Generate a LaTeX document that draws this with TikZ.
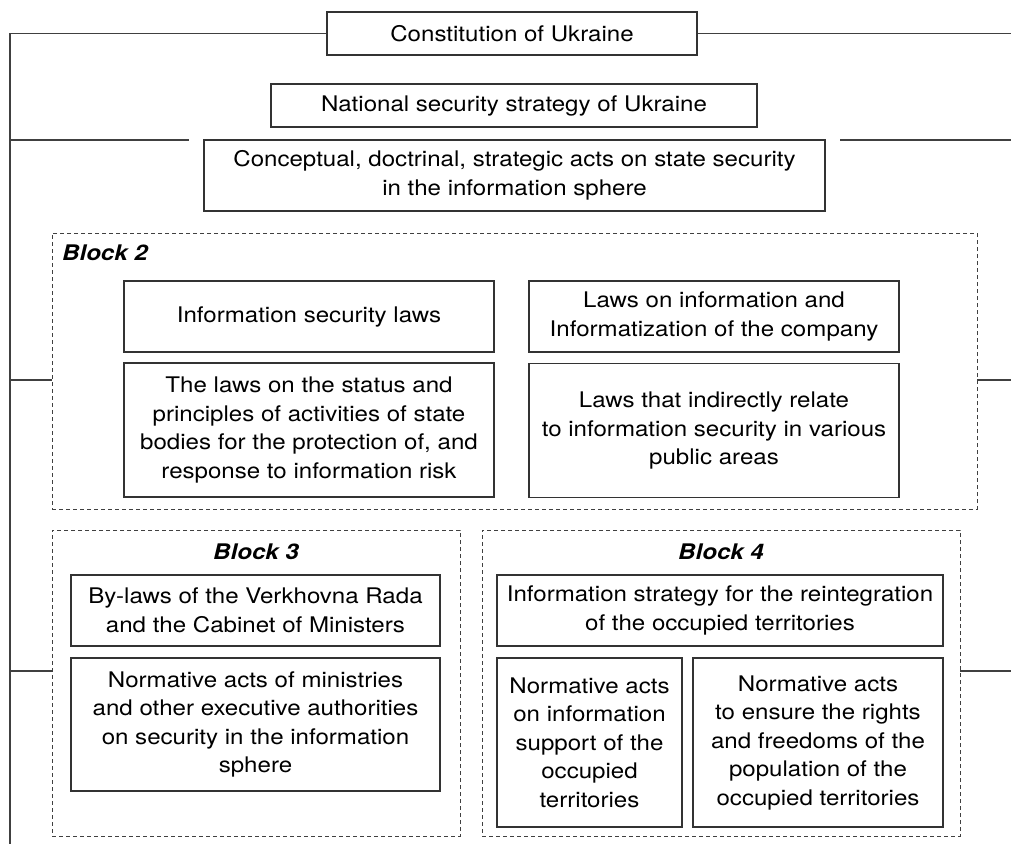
\documentclass[tikz,border=0pt]{standalone}
\usepackage{fontspec}
\setmainfont{TeX Gyre Heros}[FakeStretch=1.12]
\begin{document}
\begin{tikzpicture}[x=1pt,y=1pt,
  box/.style={draw=black!80, line width=1.2pt, align=center, inner sep=2pt,
    font=\fontsize{21.5}{28.5}\selectfont, text=black},
  blockframe/.style={draw=black!75, line width=0.9pt, dash pattern=on 4pt off 3pt},
  blocklabel/.style={font=\fontsize{21.5}{24}\selectfont\bfseries\itshape, text=black, inner sep=0pt},
  conn/.style={draw=black!75, line width=1.2pt}]
\useasboundingbox (0,0) rectangle (1011,-844);

% top boxes
\node[box, minimum width=370pt, minimum height=43pt] (const) at (512,-33.5) {Constitution of Ukraine};
\node[box, minimum width=486pt, minimum height=43pt] (nss) at (514,-105.5) {National security strategy of Ukraine};
\node[box, minimum width=621pt, minimum height=71pt] (concept) at (514.5,-175.5) {Conceptual, doctrinal, strategic acts on state security\\in the information sphere};

% block 2
\node[blockframe, minimum width=925pt, minimum height=276pt, inner sep=0pt] (b2) at (514.5,-371) {};
\node[blocklabel, anchor=west] (b2l) at (62,-253) {Block 2};
\node[box, minimum width=370pt, minimum height=71pt] (isl) at (309,-316.5) {Information security laws};
\node[box, minimum width=370pt, minimum height=71pt] (lii) at (714,-316.5) {Laws on information and\\Informatization of the company};
\node[box, minimum width=370pt, minimum height=134pt] (status) at (309,-430) {The laws on the status and\\principles of activities of state\\bodies for the protection of, and\\response to information risk};
\node[box, minimum width=370pt, minimum height=134pt, anchor=north] (indirect) at (714,-363) {Laws that indirectly relate\\to information security in various\\public areas};

% block 3
\node[blockframe, minimum width=408pt, minimum height=306pt, inner sep=0pt] (b3) at (256,-683) {};
\node[blocklabel] (b3l) at (256,-552) {Block 3};
\node[box, minimum width=369pt, minimum height=71pt] (bylaws) at (255.5,-610.5) {By-laws of the Verkhovna Rada\\and the Cabinet of Ministers};
\node[box, minimum width=369pt, minimum height=133pt] (normmin) at (255.5,-724.5) {Normative acts of ministries\\and other executive authorities\\on security in the information\\sphere};

% block 4
\node[blockframe, minimum width=478pt, minimum height=306pt, inner sep=0pt] (b4) at (721,-683) {};
\node[blocklabel] (b4l) at (721,-552) {Block 4};
\node[box, minimum width=446pt, minimum height=71pt] (strat) at (720,-610.5) {Information strategy for the reintegration\\of the occupied territories};
\node[box, minimum width=185pt, minimum height=169pt] (na1) at (589.5,-742.5) {Normative acts\\on information\\support of the\\occupied\\territories};
\node[box, minimum width=250pt, minimum height=169pt] (na2) at (818,-742.5) {Normative acts\\to ensure the rights\\and freedoms of the\\population of the\\occupied territories};

% connectors
\coordinate (spinetop) at (10,-33.5);
\coordinate (spinebot) at (10,-844);
\coordinate (rightedge1) at (1011,-33.5);
\coordinate (l2a) at (10,-140);
\coordinate (l2b) at (189,-140);
\coordinate (r2a) at (840,-140);
\coordinate (r2b) at (1011,-140);
\coordinate (l3a) at (10,-380);
\coordinate (l3b) at (52,-380);
\coordinate (r3a) at (977,-380);
\coordinate (r3b) at (1011,-380);
\coordinate (l4a) at (10,-671);
\coordinate (l4b) at (52,-671);
\coordinate (r4a) at (960,-671);
\coordinate (r4b) at (1011,-671);

\draw[conn] (const.west) -- (spinetop) -- (spinebot);
\draw[conn] (const.east) -- (rightedge1);
\draw[conn] (l2a) -- (l2b);
\draw[conn] (r2a) -- (r2b);
\draw[conn] (l3a) -- (l3b);
\draw[conn] (r3a) -- (r3b);
\draw[conn] (l4a) -- (l4b);
\draw[conn] (r4a) -- (r4b);
\end{tikzpicture}
\end{document}
